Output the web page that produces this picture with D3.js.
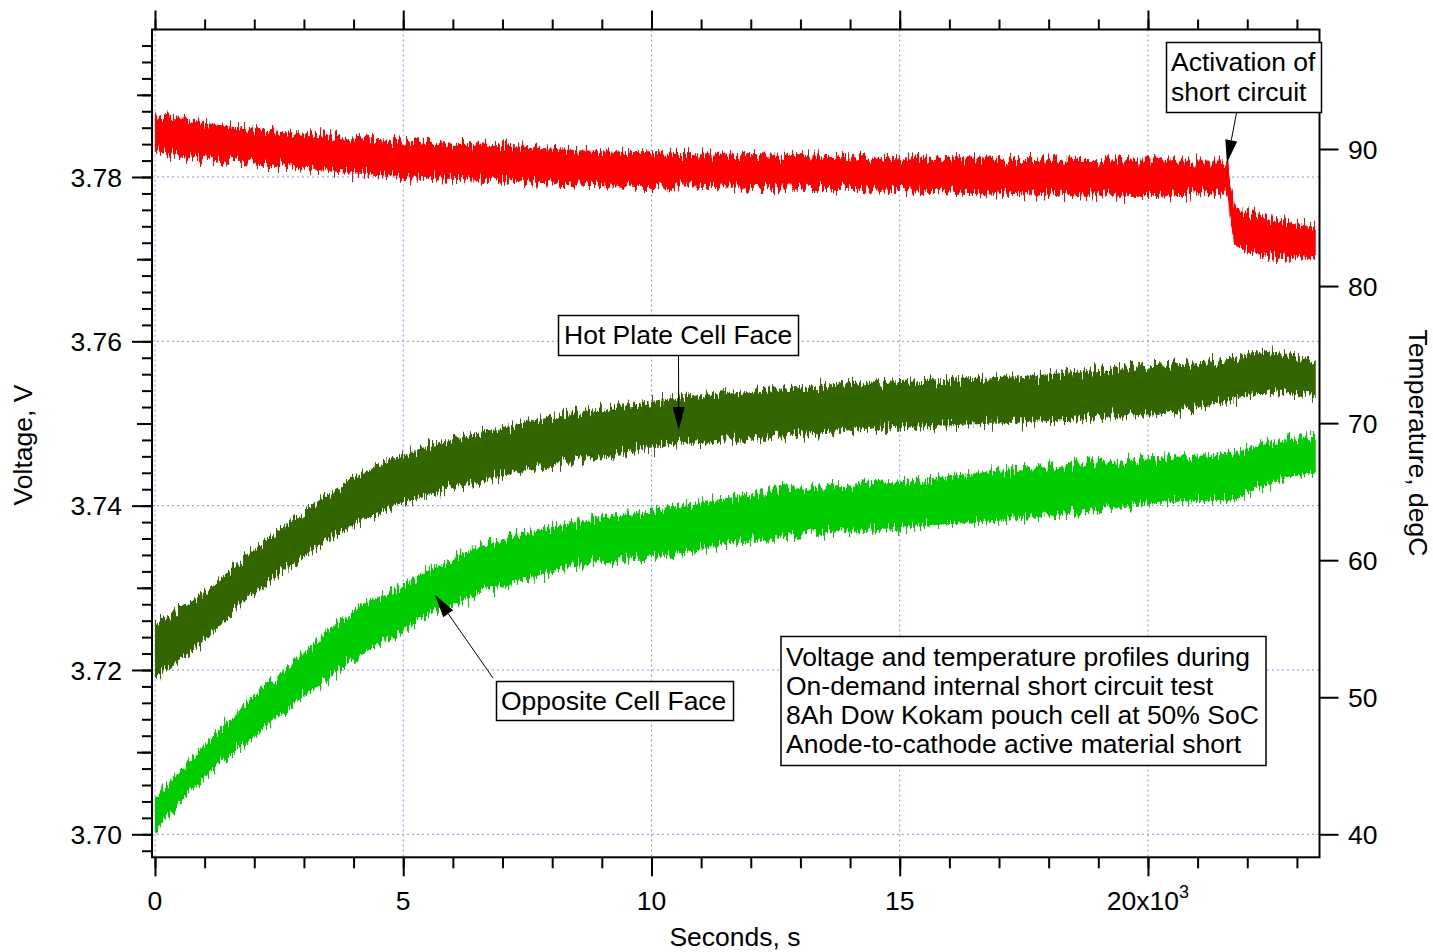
<!DOCTYPE html>
<html><head><meta charset="utf-8">
<script src="https://cdn.jsdelivr.net/npm/d3@7"></script>
<style>body{margin:0;background:#fff} text{font-family:"Liberation Sans",Arial,sans-serif;fill:#000}</style>
</head><body>
<svg id="c" width="1433" height="952"></svg>
<script>
// ---------- data ----------
const voltTicks = [3.70, 3.72, 3.74, 3.76, 3.78];
const voltLabels = ["3.70", "3.72", "3.74", "3.76", "3.78"];
const tempTicks = [40, 50, 60, 70, 80, 90];
const tempLabels = ["40", "50", "60", "70", "80", "90"];
const timeTicks = [0, 5, 10, 15, 20];          // x10^3 s
const timeLabels = ["0", "5", "10", "15", "20"];

// Voltage (red): envelope of the noisy trace, time in 10^3 s
const timeRed = [0, 0.5, 1.45, 3, 5, 6.85, 8.4, 9.9, 11.9, 15, 17.5, 20, 21.59, 21.66, 21.73, 21.83, 22.3, 23, 23.38];
const redHigh = [3.7874, 3.7871, 3.7862, 3.7854, 3.7843, 3.7839, 3.7833, 3.7830, 3.7828, 3.7824, 3.7822, 3.7820, 3.7820, 3.7794, 3.7770, 3.7759, 3.7751, 3.7743, 3.7739];
const redLow  = [3.7832, 3.7826, 3.7820, 3.7810, 3.7800, 3.7796, 3.7791, 3.7789, 3.7787, 3.7783, 3.7779, 3.7777, 3.7780, 3.7745, 3.7724, 3.7715, 3.7705, 3.7701, 3.7700];

// Hot Plate Cell Face temperature (dark green), degC
const timeHot = [0, 0.9, 1.9, 2.9, 3.9, 4.9, 5.9, 6.95, 7.96, 8.96, 9.97, 12.55, 15.13, 17.72, 20.3, 21.5, 22.0, 22.25, 23.38];
const hotHigh = [55.4, 57.4, 60.5, 63.3, 65.8, 67.5, 68.8, 69.6, 70.5, 71.0, 71.6, 72.5, 73.1, 73.5, 74.3, 74.6, 75.0, 75.2, 74.5];
const hotLow  = [51.5, 53.8, 57.3, 60.0, 62.4, 64.0, 65.1, 66.1, 66.9, 67.5, 68.2, 69.0, 69.7, 70.1, 70.8, 71.5, 72.0, 72.2, 71.9];

// Opposite Cell Face temperature (light green), degC
const timeOpp = [0, 0.9, 1.9, 2.9, 3.9, 4.9, 5.9, 6.95, 7.96, 8.96, 9.97, 12.55, 15.13, 17.72, 20.3, 21.7, 22.2, 23.38];
const oppHigh = [42.7, 46.1, 49.8, 52.9, 56.1, 58.0, 60.0, 61.5, 62.4, 63.1, 63.6, 65.1, 65.8, 66.8, 67.5, 67.8, 68.4, 69.0];
const oppLow  = [40.3, 43.8, 46.9, 49.8, 52.5, 54.7, 56.6, 58.0, 59.1, 59.8, 60.2, 61.7, 62.4, 63.1, 64.2, 64.4, 65.3, 66.4];

const noteLines = ["Voltage and temperature profiles during",
  "On-demand internal short circuit test",
  "8Ah Dow Kokam pouch cell at 50% SoC",
  "Anode-to-cathode active material short"];

// ---------- layout ----------
const L = 152, R = 1319.5, T = 29.5, B = 857.3;
const svg = d3.select("#c");
const x = d3.scaleLinear().domain([-0.06, 23.455]).range([L, R]);
const yV = d3.scaleLinear().domain([3.70, 3.78]).range([834.3, 177]);
const yT = d3.scaleLinear().domain([40, 90]).range([834.3, 149]);
const FONT = 26.5;

// filter giving the band edges a jagged look
const defs = svg.append("defs");
const f = defs.append("filter").attr("id", "rough")
  .attr("filterUnits", "userSpaceOnUse").attr("x", 140).attr("y", 0).attr("width", 1200).attr("height", 900)
  .attr("color-interpolation-filters", "sRGB");
f.append("feTurbulence").attr("type", "fractalNoise").attr("baseFrequency", "0.5 0.04")
  .attr("numOctaves", 2).attr("seed", 7).attr("result", "n");
f.append("feColorMatrix").attr("in", "n").attr("type", "matrix")
  .attr("values", "0 0 0 0 0.5  0 1 0 0 0  0 0 0 0 0  0 0 0 0 1").attr("result", "m");
f.append("feDisplacementMap").attr("in", "SourceGraphic").attr("in2", "m")
  .attr("scale", 26).attr("xChannelSelector", "R").attr("yChannelSelector", "G");

defs.append("clipPath").attr("id", "plotclip").append("rect")
  .attr("x", L + 1).attr("y", T + 1).attr("width", R - L - 2).attr("height", B - T - 2);

// gridlines
const grid = svg.append("g").attr("stroke", "#8c8cff").attr("stroke-width", 1)
  .attr("stroke-dasharray", "2,3");
grid.selectAll("line.h").data(voltTicks).join("line")
  .attr("x1", L).attr("x2", R).attr("y1", d => yV(d)).attr("y2", d => yV(d));
grid.selectAll("line.v").data(timeTicks).join("line")
  .attr("y1", T).attr("y2", B).attr("x1", d => x(d)).attr("x2", d => x(d));

// bands
const plot = svg.append("g").attr("clip-path", "url(#plotclip)");
function band(times, lo, hi, yScale, color) {
  const pts = times.map((t, i) => ({t, lo: lo[i], hi: hi[i]}));
  const area = d3.area().x(d => x(d.t)).y0(d => yScale(d.lo)).y1(d => yScale(d.hi))
    .curve(d3.curveMonotoneX);
  plot.append("path").datum(pts).attr("d", area).attr("fill", color)
    .attr("filter", "url(#rough)");
}
band(timeRed, redLow, redHigh, yV, "#ff0000");
band(timeHot, hotLow, hotHigh, yT, "#336600");
band(timeOpp, oppLow, oppHigh, yT, "#00cc00");

// frame
svg.append("rect").attr("x", L).attr("y", T).attr("width", R - L).attr("height", B - T)
  .attr("fill", "none").attr("stroke", "#000").attr("stroke-width", 2);

// axes helper
function ticks(axisFn, scale, values, size, transform) {
  const g = svg.append("g").attr("transform", transform)
    .call(axisFn(scale).tickValues(values).tickSize(size).tickFormat(""));
  g.select(".domain").remove();
  g.selectAll(".tick line").attr("stroke", "#000").attr("stroke-width", 2);
  return g;
}
const minorV = d3.range(0, 50).map(i => +(3.698 + i * 0.002).toFixed(3));
const midV = [3.71, 3.73, 3.75, 3.77, 3.79];
ticks(d3.axisLeft, yV, minorV, 10, `translate(${L},0)`);
ticks(d3.axisLeft, yV, midV, 15, `translate(${L},0)`);
ticks(d3.axisLeft, yV, voltTicks, 20, `translate(${L},0)`);

const minorX = d3.range(0, 24);
ticks(d3.axisBottom, x, minorX, 11, `translate(0,${B})`);
ticks(d3.axisBottom, x, timeTicks, 19, `translate(0,${B})`);
ticks(d3.axisTop, x, minorX, 10, `translate(0,${T})`);
ticks(d3.axisTop, x, timeTicks, 19, `translate(0,${T})`);
ticks(d3.axisRight, yT, tempTicks, 19, `translate(${R},0)`);

// tick labels
svg.append("g").selectAll("text").data(voltTicks).join("text")
  .attr("x", 122).attr("y", d => yV(d)).attr("dy", "0.36em").attr("text-anchor", "end")
  .attr("font-size", FONT).text((d, i) => voltLabels[i]);
svg.append("g").selectAll("text").data(tempTicks).join("text")
  .attr("x", 1348).attr("y", d => yT(d)).attr("dy", "0.36em").attr("text-anchor", "start")
  .attr("font-size", FONT).text((d, i) => tempLabels[i]);
const xl = svg.append("g").selectAll("text").data(timeTicks).join("text")
  .attr("x", d => x(d)).attr("y", 910).attr("text-anchor", "middle").attr("font-size", FONT);
xl.each(function(d, i) {
  const t = d3.select(this);
  if (i === timeTicks.length - 1) {
    t.append("tspan").text(timeLabels[i] + "x10");
    t.append("tspan").attr("font-size", 18).attr("dy", -12).text("3");
  } else t.text(timeLabels[i]);
});

// axis titles
svg.append("text").attr("transform", "translate(32,445) rotate(-90)").attr("text-anchor", "middle")
  .attr("font-size", FONT).text("Voltage, V");
svg.append("text").attr("transform", "translate(1409,443) rotate(90)").attr("text-anchor", "middle")
  .attr("font-size", FONT).text("Temperature, degC");
svg.append("text").attr("x", 735).attr("y", 946).attr("text-anchor", "middle")
  .attr("font-size", FONT).text("Seconds, s");

// annotations
function arrow(x1, y1, x2, y2) {
  const dx = x2 - x1, dy = y2 - y1, len = Math.hypot(dx, dy);
  const ux = dx / len, uy = dy / len, hl = 23, hw = 6;
  const bx = x2 - ux * hl, by = y2 - uy * hl;
  svg.append("line").attr("x1", x1).attr("y1", y1).attr("x2", bx).attr("y2", by)
    .attr("stroke", "#000").attr("stroke-width", 1);
  svg.append("path").attr("d",
    `M${x2},${y2}L${bx - uy * hw},${by + ux * hw}L${bx + uy * hw},${by - ux * hw}Z`).attr("fill", "#000");
}
function box(x0, y0, w, h, lines, lh, tx, ty) {
  svg.append("rect").attr("x", x0).attr("y", y0).attr("width", w).attr("height", h)
    .attr("fill", "#fff").attr("stroke", "#000").attr("stroke-width", 1.5);
  lines.forEach((s, i) => svg.append("text").attr("x", tx).attr("y", ty + i * lh)
    .attr("font-size", FONT).text(s));
}
box(558.5, 315.5, 240, 40, ["Hot Plate Cell Face"], 0, 564, 344);
arrow(678.5, 356, x(10.55), yT(69.5));
box(496.5, 681.5, 237, 39, ["Opposite Cell Face"], 0, 501, 710);
arrow(493, 678, x(5.64), yT(57.47));
box(1166.5, 42.5, 155, 70, ["Activation of", "short circuit"], 29.5, 1171, 71);
arrow(1236.5, 113, x(21.59), yV(3.7817));
box(781, 636.5, 485, 129, noteLines, 29, 786, 666);
</script>
</body></html>
